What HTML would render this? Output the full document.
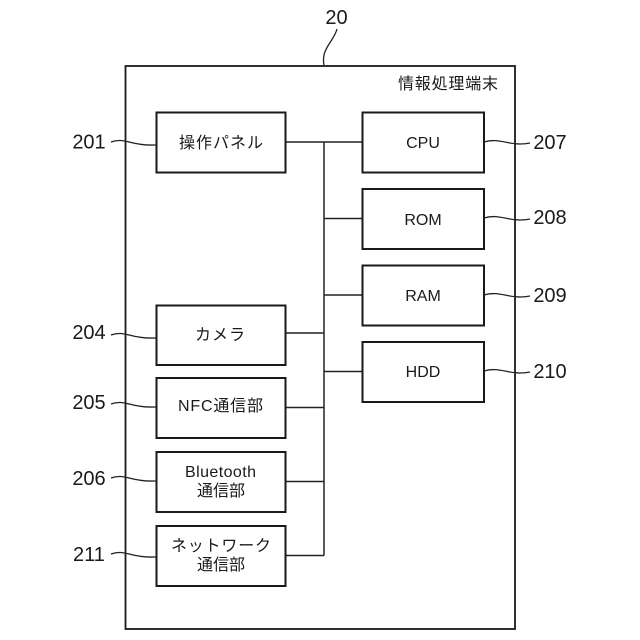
<!DOCTYPE html>
<html>
<head>
<meta charset="utf-8">
<style>
html,body{margin:0;padding:0;background:#fff}
svg{display:block}
text{font-family:"Liberation Sans","Noto Sans CJK JP",sans-serif;fill:#1a1a1a}
.n{font-size:20px}
.l{font-size:16px}
.box{fill:#fff;stroke:#1a1a1a;stroke-width:2}
.w{fill:none;stroke:#222;stroke-width:1.3}
.c{fill:none;stroke:#222;stroke-width:1.5}
</style>
</head>
<body>
<svg width="640" height="640" viewBox="0 0 640 640" xmlns="http://www.w3.org/2000/svg">
<rect x="125.500" y="66" width="389.500" height="563" fill="#fff" stroke="#1a1a1a" stroke-width="1.8"/>

<path class="c" d="M324 142V555.500M285 142H362M324 218.500H362M324 295H362M324 371.500H362M285 333H324M285 407.500H324M285 481.500H324M285 555.500H324"/>

<rect class="box" x="156.500" y="112.500" width="129" height="60"/>
<rect class="box" x="156.500" y="305.500" width="129" height="59.500"/>
<rect class="box" x="156.500" y="378" width="129" height="60"/>
<rect class="box" x="156.500" y="452" width="129" height="60"/>
<rect class="box" x="156.500" y="526" width="129" height="60"/>
<rect class="box" x="362.500" y="112.500" width="121.500" height="60"/>
<rect class="box" x="362.500" y="189" width="121.500" height="60"/>
<rect class="box" x="362.500" y="265.500" width="121.500" height="60"/>
<rect class="box" x="362.500" y="342" width="121.500" height="60"/>

<path class="w" d="M337 29C335 38 325 47 324 55Q323 60 324 66"/>
<path class="w" d="M111 142C125 137 130 146 156 145"/>
<path class="w" d="M111 335C125 330 130 339 156 338"/>
<path class="w" d="M111 404C125 399 130 408 156 407"/>
<path class="w" d="M111 478C125 473 130 482 156 481"/>
<path class="w" d="M111 554C125 549 130 558 156 557"/>
<path class="w" d="M484 142C500 137 510 147 530 143"/>
<path class="w" d="M484 218C500 213 510 223 530 219"/>
<path class="w" d="M484 295C500 290 510 300 530 296"/>
<path class="w" d="M484 371C500 366 510 376 530 372"/>

<text class="n" x="336.500" y="24" text-anchor="middle">20</text>
<text class="n" x="89" y="148.500" text-anchor="middle">201</text>
<text class="n" x="89" y="339" text-anchor="middle">204</text>
<text class="n" x="89" y="409" text-anchor="middle">205</text>
<text class="n" x="89" y="485" text-anchor="middle">206</text>
<text class="n" x="89" y="561" text-anchor="middle">211</text>
<text class="n" x="550" y="149" text-anchor="middle">207</text>
<text class="n" x="550" y="224" text-anchor="middle">208</text>
<text class="n" x="550" y="302" text-anchor="middle">209</text>
<text class="n" x="550" y="378" text-anchor="middle">210</text>

<text class="l" x="448" y="89" text-anchor="middle" textLength="100">情報処理端末</text>
<text class="l" x="221" y="148" text-anchor="middle" textLength="84">操作パネル</text>
<text class="l" x="220" y="340" text-anchor="middle" textLength="50">カメラ</text>
<text class="l" x="220.500" y="411" text-anchor="middle" textLength="85">NFC通信部</text>
<text class="l" x="220.500" y="477" text-anchor="middle" textLength="71">Bluetooth</text>
<text class="l" x="221" y="496" text-anchor="middle">通信部</text>
<text class="l" x="221" y="551" text-anchor="middle" textLength="100">ネットワーク</text>
<text class="l" x="221" y="570" text-anchor="middle">通信部</text>
<text class="l" x="423" y="148" text-anchor="middle">CPU</text>
<text class="l" x="423" y="225" text-anchor="middle">ROM</text>
<text class="l" x="423" y="301" text-anchor="middle">RAM</text>
<text class="l" x="423" y="377" text-anchor="middle">HDD</text>
</svg>
</body>
</html>
